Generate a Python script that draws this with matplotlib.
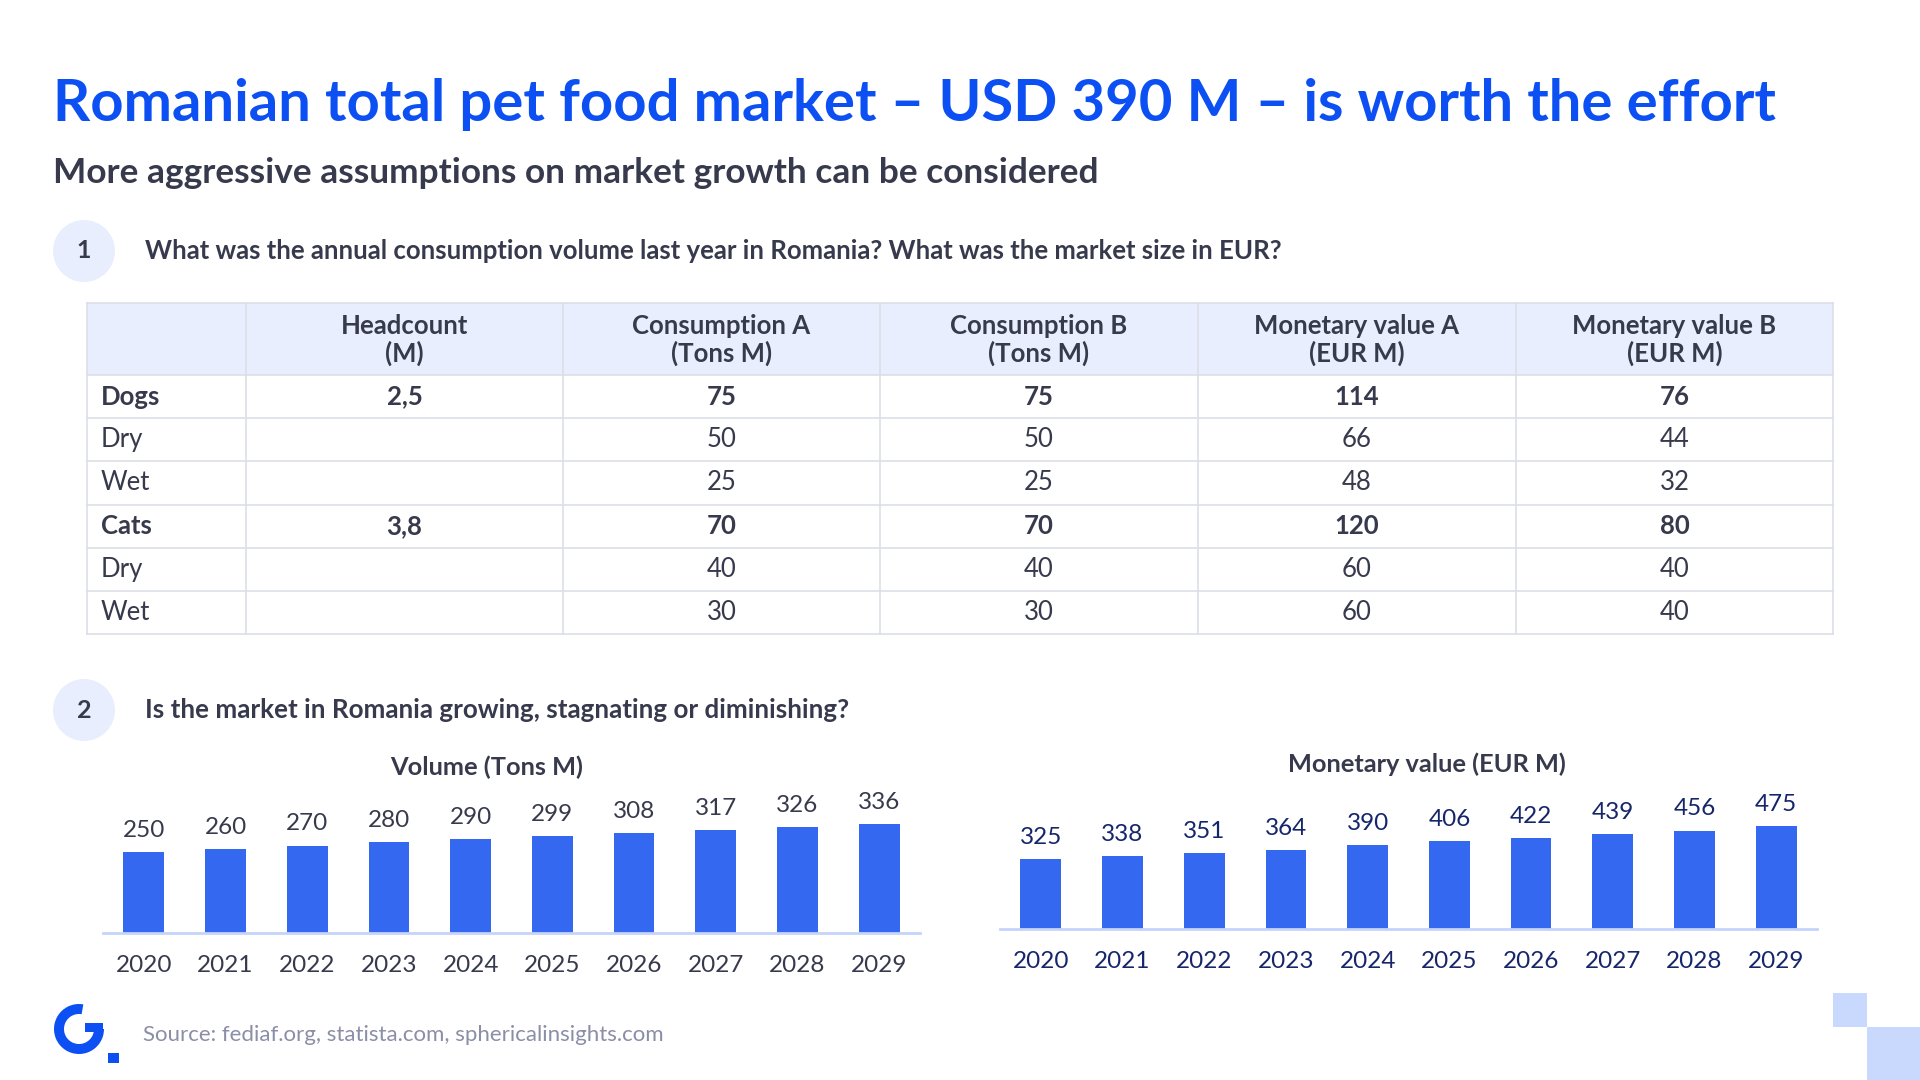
import matplotlib
matplotlib.use('Agg')
import matplotlib.pyplot as plt
from matplotlib.patches import Circle, Rectangle, Wedge

plt.rcParams['font.family'] = ['Lato', 'DejaVu Sans']

# --- data ---
title = 'Romanian total pet food market \u2013 USD 390 M \u2013 is worth the effort'
subtitle = 'More aggressive assumptions on market growth can be considered'
question1 = 'What was the annual consumption volume last year in Romania? What was the market size in EUR?'
question2 = 'Is the market in Romania growing, stagnating or diminishing?'
source = 'Source: fediaf.org, statista.com, sphericalinsights.com'

col_headers = ['', 'Headcount\n(M)', 'Consumption A\n(Tons M)', 'Consumption B\n(Tons M)',
               'Monetary value A\n(EUR M)', 'Monetary value B\n(EUR M)']
row_labels = ['Dogs', 'Dry', 'Wet', 'Cats', 'Dry', 'Wet']
bold_rows = [True, False, False, True, False, False]
headcount = ['2,5', '', '', '3,8', '', '']
consumption_a = [75, 50, 25, 70, 40, 30]
consumption_b = [75, 50, 25, 70, 40, 30]
monetary_a = [114, 66, 48, 120, 60, 60]
monetary_b = [76, 44, 32, 80, 40, 40]

years = ['2020', '2021', '2022', '2023', '2024', '2025', '2026', '2027', '2028', '2029']
volume = [250, 260, 270, 280, 290, 299, 308, 317, 326, 336]
monetary = [325, 338, 351, 364, 390, 406, 422, 439, 456, 475]

# --- colours ---
BLUE = '#0c50f4'
BAR = '#3568f0'
DARK = '#373a4c'
NAVY = '#16266b'
GREY = '#8a8ea6'
LIGHT = '#e8eefd'
LINE = '#dcdfe6'
AXLINE = '#c5d4fb'

W, H = 1920, 1080
fig = plt.figure(figsize=(19.2, 10.8), dpi=100)
fig.patch.set_facecolor('white')

# overlay in pixel coordinates for the slide elements
ax0 = fig.add_axes([0, 0, 1, 1])
ax0.set_xlim(0, W)
ax0.set_ylim(H, 0)
ax0.axis('off')

ax0.text(53, 121, title, fontsize=41.8, fontweight='bold', color=BLUE, va='baseline')
ax0.text(53, 183, subtitle, fontsize=25.4, fontweight='bold', color=DARK, va='baseline')

# numbered questions
for num, y, q, fs in [('1', 251, question1, 18.5), ('2', 710, question2, 18.7)]:
    ax0.add_patch(Circle((84, y), 31, color=LIGHT, lw=0))
    ax0.text(84, y, num, fontsize=18, fontweight='bold', color=DARK, ha='center', va='center')
    ax0.text(145, y, q, fontsize=fs, fontweight='bold', color=DARK, va='center')

# --- table ---
col_x = [87, 246, 563, 880, 1198, 1516, 1833]
top, head_bot, row_h = 303, 375, 43.2
n_rows = len(row_labels)
bottom = head_bot + n_rows * row_h

ax0.add_patch(Rectangle((col_x[0], top), col_x[-1] - col_x[0], head_bot - top,
                        facecolor=LIGHT, lw=0))
for x in col_x:
    ax0.plot([x, x], [top, bottom], color=LINE, lw=1.2)
ax0.plot([col_x[0], col_x[-1]], [top, top], color=LINE, lw=1.2)
for i in range(n_rows + 1):
    y = head_bot + i * row_h
    ax0.plot([col_x[0], col_x[-1]], [y, y], color=LINE, lw=1.2)

for j, hdr in enumerate(col_headers):
    cx = (col_x[j] + col_x[j + 1]) / 2
    ax0.text(cx, 340, hdr, fontsize=18.5, fontweight='bold', color=DARK,
             ha='center', va='center', linespacing=1.1)

columns = [headcount, consumption_a, consumption_b, monetary_a, monetary_b]
for i, lab in enumerate(row_labels):
    cy = head_bot + (i + 0.5) * row_h
    wt = 'bold' if bold_rows[i] else 'normal'
    ax0.text(101, cy, lab, fontsize=18.5, fontweight=wt, color=DARK, va='center')
    for j, col in enumerate(columns):
        cx = (col_x[j + 1] + col_x[j + 2]) / 2
        ax0.text(cx, cy, str(col[i]), fontsize=18.5, fontweight=wt, color=DARK,
                 ha='center', va='center')


# --- bar charts ---
def bar_chart(left, right, base, px_per_unit, values, name, txt_color, title_x, title_y):
    h = 200
    ax = fig.add_axes([left / W, (H - base) / H, (right - left) / W, h / H])
    x = range(len(values))
    bars = ax.bar(x, values, width=0.5, color=BAR, zorder=2)
    ax.set_xlim(-0.5, len(values) - 0.5)
    ax.set_ylim(0, h / px_per_unit)
    ax.bar_label(bars, labels=[str(v) for v in values], padding=8, fontsize=17.5, color=txt_color)
    ax.set_xticks(list(x))
    ax.set_xticklabels(years, fontsize=17.5, color=txt_color)
    ax.tick_params(axis='x', length=0, pad=15.5)
    ax.set_yticks([])
    for s in ['top', 'left', 'right']:
        ax.spines[s].set_visible(False)
    ax.spines['bottom'].set_color(AXLINE)
    ax.spines['bottom'].set_linewidth(2)
    ax.patch.set_alpha(0)
    ax0.text(title_x, title_y, name, fontsize=18.3, fontweight='bold', color=DARK,
             ha='center', va='center')
    return ax


bar_chart(103, 920, 933, 0.324, volume, 'Volume (Tons M)', DARK, 487, 767)
bar_chart(1000, 1817, 929, 0.216, monetary, 'Monetary value (EUR M)', NAVY, 1427, 764)

# --- footer: logo, source, decorative squares ---
ax0.add_patch(Wedge((79, 1029), 25, 0, 280, width=10, color=BLUE, lw=0))
ax0.add_patch(Rectangle((85, 1023), 18, 9, color=BLUE, lw=0))
ax0.add_patch(Rectangle((108, 1053), 11, 10, color=BLUE, lw=0))
ax0.text(143, 1035, source, fontsize=16, color=GREY, va='center')

ax0.add_patch(Rectangle((1833, 993), 34, 34, color='#c9d8fd', lw=0))
ax0.add_patch(Rectangle((1867, 1027), 53, 53, color='#c9d8fd', lw=0))

fig.savefig('out.png', dpi=100, facecolor='white')
